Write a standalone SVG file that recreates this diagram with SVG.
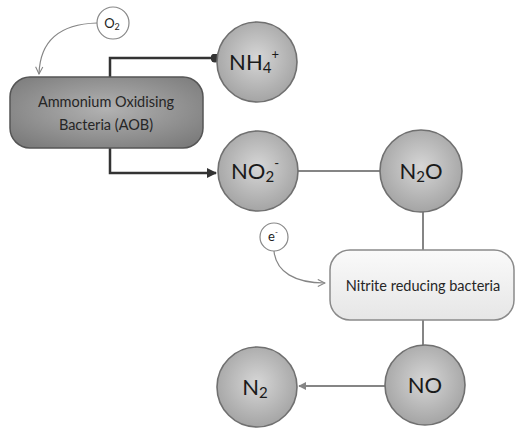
<svg xmlns="http://www.w3.org/2000/svg" width="516" height="429" viewBox="0 0 516 429">
  <defs>
    <radialGradient id="ballFill" cx="50%" cy="45%" r="60%">
      <stop offset="0" stop-color="#d6d6d6"/>
      <stop offset="1" stop-color="#a0a0a0"/>
    </radialGradient>
    <radialGradient id="aobFill" cx="50%" cy="45%" r="65%">
      <stop offset="0" stop-color="#b2b2b2"/>
      <stop offset="1" stop-color="#7c7c7c"/>
    </radialGradient>
    <linearGradient id="nrbFill" x1="0" y1="0" x2="0" y2="1">
      <stop offset="0" stop-color="#fafafa"/>
      <stop offset="1" stop-color="#e6e6e6"/>
    </linearGradient>
    <marker id="darkHead" viewBox="0 0 10 10" refX="9" refY="5" markerWidth="4" markerHeight="4" orient="auto" markerUnits="strokeWidth">
      <path d="M0,0 L10,5 L0,10 Z" fill="#333"/>
    </marker>
    <marker id="dot" viewBox="0 0 10 10" refX="5" refY="5" markerWidth="3.6" markerHeight="3.6" markerUnits="strokeWidth">
      <circle cx="5" cy="5" r="5" fill="#333"/>
    </marker>
    <marker id="greyHead" viewBox="0 0 10 10" refX="9" refY="5" markerWidth="4" markerHeight="4" orient="auto" markerUnits="strokeWidth">
      <path d="M0,0 L10,5 L0,10 Z" fill="#858585"/>
    </marker>
    <marker id="openHead" viewBox="0 0 10 10" refX="9" refY="5" markerWidth="9" markerHeight="9" orient="auto" markerUnits="userSpaceOnUse">
      <path d="M1,1 L9,5 L1,9" fill="none" stroke="#858585" stroke-width="1.2"/>
    </marker>
  </defs>
  <style>
    .ball { fill: url(#ballFill); stroke: #707070; stroke-width: 1.6; }
    .small { fill: #ffffff; stroke: #888; stroke-width: 1.2; }
    .chem { font-family: Lato, "Open Sans", "Liberation Sans", sans-serif; font-size: 22px; fill: #1a1a1a; text-anchor: middle; }
    .lbl { font-family: Lato, "Open Sans", "Liberation Sans", sans-serif; font-size: 14.5px; fill: #262626; text-anchor: middle; }
    .tiny { font-family: Lato, "Open Sans", "Liberation Sans", sans-serif; font-size: 13px; fill: #222; text-anchor: middle; }
    .dark { fill: none; stroke: #333; stroke-width: 2.5; }
    .grey { fill: none; stroke: #858585; stroke-width: 2; }
    .thin { fill: none; stroke: #858585; stroke-width: 1.2; }
  </style>

  <g id="connectors">
    <path class="dark" d="M110,77 V58 H215" marker-end="url(#dot)"/>
    <path class="dark" d="M110,148 V173 H216" marker-end="url(#darkHead)"/>
    <path class="grey" d="M298,171 H380"/>
    <path class="grey" d="M423,212 V250"/>
    <path class="grey" d="M423,320 V345"/>
    <path class="grey" d="M385,386 H299" marker-end="url(#greyHead)"/>
    <path class="thin" d="M97,23 C60,24 40,40 39,74" marker-end="url(#openHead)"/>
    <path class="thin" d="M274,251 C276,272 295,283 325,283" marker-end="url(#openHead)"/>
  </g>

  <g id="o2">
    <circle class="small" cx="113" cy="23" r="16"/>
    <text class="tiny" x="112" y="28">O<tspan font-size="9" dy="2">2</tspan></text>
  </g>

  <g id="aob">
    <rect x="10" y="77" width="193" height="71" rx="20" fill="url(#aobFill)" stroke="#555" stroke-width="1.5"/>
    <text class="lbl" x="106" y="107">Ammonium Oxidising</text>
    <text class="lbl" x="106" y="130">Bacteria (AOB)</text>
  </g>

  <g id="nh4">
    <circle class="ball" cx="257" cy="62" r="40"/>
    <text class="chem" x="254" y="70">NH<tspan font-size="15" dy="3">4</tspan><tspan font-size="13" dy="-14">+</tspan></text>
  </g>

  <g id="no2">
    <circle class="ball" cx="258" cy="171" r="40"/>
    <text class="chem" x="255" y="179">NO<tspan font-size="15" dy="3">2</tspan><tspan font-size="13" dy="-14">-</tspan></text>
  </g>

  <g id="n2o">
    <circle class="ball" cx="421" cy="171" r="41"/>
    <text class="chem" x="421" y="179">N<tspan font-size="15" dy="3">2</tspan><tspan dy="-3">O</tspan></text>
  </g>

  <g id="e">
    <circle class="small" cx="274" cy="237" r="14"/>
    <text class="tiny" x="273" y="241">e<tspan font-size="8" dy="-6">-</tspan></text>
  </g>

  <g id="nrb">
    <rect x="330" y="250" width="184" height="70" rx="20" fill="url(#nrbFill)" stroke="#8a8a8a" stroke-width="1.5"/>
    <text class="lbl" x="423" y="291">Nitrite reducing bacteria</text>
  </g>

  <g id="no">
    <circle class="ball" cx="425" cy="385" r="40"/>
    <text class="chem" x="425" y="393">NO</text>
  </g>

  <g id="n2">
    <circle class="ball" cx="257" cy="387" r="40"/>
    <text class="chem" x="255" y="395">N<tspan font-size="15" dy="3">2</tspan></text>
  </g>
</svg>
